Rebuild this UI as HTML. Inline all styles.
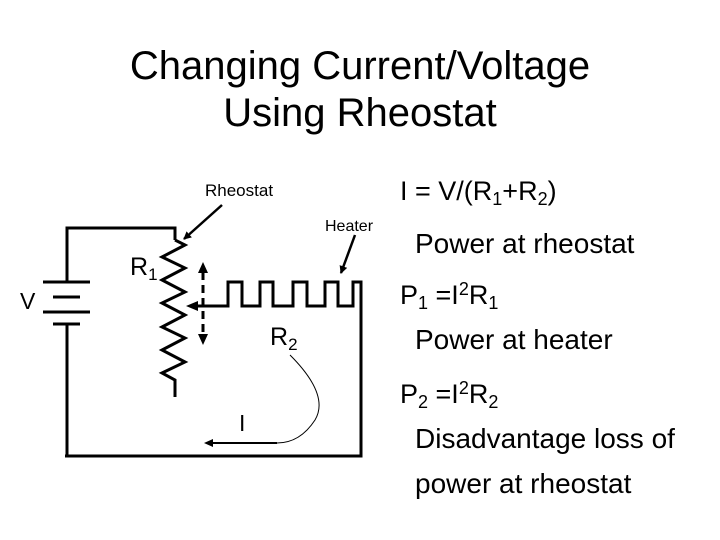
<!DOCTYPE html>
<html><head><style>
body{margin:0;background:#fff}
svg{display:block}
text{font-family:"Liberation Sans",sans-serif;fill:#000}
</style></head><body>
<svg width="720" height="540" viewBox="0 0 720 540">
<defs>
<marker id="ah" markerWidth="8" markerHeight="8" refX="7" refY="4" orient="auto" markerUnits="userSpaceOnUse"><path d="M0,0 L8,4 L0,8 Z" fill="#000"/></marker>
</defs>
<text x="360" y="79" font-size="40" text-anchor="middle">Changing Current/Voltage</text>
<text x="360" y="126" font-size="40" text-anchor="middle">Using Rheostat</text>

<g stroke="#000" stroke-width="3" fill="none">
<polyline points="67,282 67,228 175,228 175,240"/>
<line x1="67" y1="324" x2="67" y2="456"/>
<polyline points="65,456 361,456 361,282 353,282 353,306 338,306 338,282 325,282 325,306 307,306 307,282 293,282 293,306 273,306 273,282 260,282 260,306 242,306 242,282 228,282 228,306 195,306"/>
<polyline points="175,240 185,245 162,257 185,268 162,280 185,292 162,303 185,315 162,327 185,338 162,350 185,362 162,373 175,380 175,397"/>
<line x1="43" y1="282" x2="90" y2="282"/>
<line x1="53" y1="297" x2="80" y2="297"/>
<line x1="43" y1="312" x2="90" y2="312"/>
<line x1="53" y1="324" x2="80" y2="324"/>
<line x1="203" y1="272" x2="203" y2="335" stroke-dasharray="8,5"/>
</g>
<path d="M186,306 L198,301 L198,311 Z"/>
<path d="M203,262 L198,273 L208,273 Z"/>
<path d="M203,345 L198,334 L208,334 Z"/>
<g stroke="#000" stroke-width="2.5" fill="none">
<line x1="222" y1="205" x2="184" y2="239" marker-end="url(#ah)"/>
<line x1="355" y1="235" x2="341" y2="273" marker-end="url(#ah)"/>
</g>
<path d="M290,355 Q330,395 315,420 Q300,443 277,443" stroke="#000" stroke-width="1" fill="none"/>
<line x1="277" y1="443" x2="212" y2="443" stroke="#000" stroke-width="2"/>
<path d="M204,443 L213,439 L213,447 Z"/>

<text x="205" y="196" font-size="17">Rheostat</text>
<text x="325" y="231" font-size="16">Heater</text>
<text x="130" y="275" font-size="25">R<tspan font-size="17" dy="5">1</tspan></text>
<text x="20" y="309" font-size="23">V</text>
<text x="270" y="345" font-size="25">R<tspan font-size="17" dy="5">2</tspan></text>
<text x="239" y="431" font-size="23">I</text>

<text x="400" y="200" font-size="27">I = V/(R<tspan font-size="18" dy="5">1</tspan><tspan dy="-5">+R</tspan><tspan font-size="18" dy="5">2</tspan><tspan dy="-5">)</tspan></text>
<text x="415" y="253" font-size="28">Power at rheostat</text>
<text x="400" y="304" font-size="27">P<tspan font-size="18" dy="5">1</tspan><tspan dy="-5"> =I</tspan><tspan font-size="18" dy="-9">2</tspan><tspan dy="9">R</tspan><tspan font-size="18" dy="5">1</tspan></text>
<text x="415" y="349" font-size="28">Power at heater</text>
<text x="400" y="403" font-size="27">P<tspan font-size="18" dy="5">2</tspan><tspan dy="-5"> =I</tspan><tspan font-size="18" dy="-9">2</tspan><tspan dy="9">R</tspan><tspan font-size="18" dy="5">2</tspan></text>
<text x="415" y="448" font-size="28">Disadvantage loss of</text>
<text x="415" y="493" font-size="28">power at rheostat</text>
</svg>
</body></html>
